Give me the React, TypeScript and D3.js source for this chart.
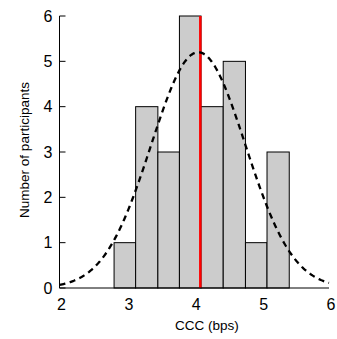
import React from 'react';
import * as d3 from 'd3';

// histogram bins (CCC in bps) and participant counts
const binEdges = [2.81, 3.13, 3.46, 3.78, 4.1, 4.43, 4.76, 5.08, 5.41];
const counts = [1, 4, 3, 6, 4, 5, 1, 3];
const xTicks = [2, 3, 4, 5, 6];
const yTicks = [0, 1, 2, 3, 4, 5, 6];

// fitted normal curve and mean marker
const fitMean = 4.06;
const fitSd = 0.7;
const fitPeak = 5.2;
const meanLine = 4.09;

const font = '"Liberation Sans", Arial, Helvetica, sans-serif';

export default function App() {
  const width = 337;
  const height = 339;

  const x = d3.scaleLinear().domain([2, 6]).range([59.5, 329]);
  const y = d3.scaleLinear().domain([0, 6]).range([288, 16]);

  const bars = counts.map((c, i) => ({ x0: binEdges[i], x1: binEdges[i + 1], c }));

  const curveXs = d3.range(2, 6.0001, 0.02);
  const line = d3.line<number>()
    .x(v => x(v))
    .y(v => y(fitPeak * Math.exp(-((v - fitMean) ** 2) / (2 * fitSd * fitSd))));

  return (
    <svg width={width} height={height} style={{ position: 'absolute', left: 0, top: 0 }}
      fontFamily={font}>
      {bars.map((b, i) => (
        <rect key={i} x={x(b.x0)} y={y(b.c)} width={x(b.x1) - x(b.x0)} height={y(0) - y(b.c)}
          fill="#cccccc" stroke="#000" strokeWidth={1} />
      ))}
      <line x1={x(meanLine)} x2={x(meanLine)} y1={y(0)} y2={y(6)} stroke="#ff0000" strokeWidth={2.5} />
      <path d={line(curveXs) || ''} fill="none" stroke="#000" strokeWidth={2.3} strokeDasharray="6,4.5" />

      {/* axes */}
      <line x1={x(2)} x2={x(6)} y1={y(0)} y2={y(0)} stroke="#000" strokeWidth={1} />
      <line x1={x(2)} x2={x(2)} y1={y(0)} y2={y(6)} stroke="#000" strokeWidth={1} />
      {yTicks.map(t => (
        <g key={t}>
          <line x1={x(2)} x2={x(2) + 6} y1={y(t)} y2={y(t)} stroke="#000" strokeWidth={1} />
          <text x={x(2) - 7} y={y(t)} dy="0.36em" textAnchor="end" fontSize={16}>{t}</text>
        </g>
      ))}
      {xTicks.map(t => (
        <text key={t} x={x(t) + 2} y={310} textAnchor="middle" fontSize={16}>{t}</text>
      ))}
      <text x={207} y={330} textAnchor="middle" fontSize={13.5}>CCC (bps)</text>
      <text transform={`translate(29,150) rotate(-90)`} textAnchor="middle" fontSize={13.5}>
        Number of participants
      </text>
    </svg>
  );
}
